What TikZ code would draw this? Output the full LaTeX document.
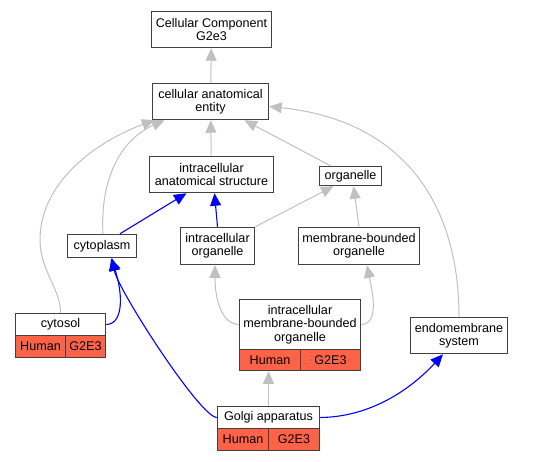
\documentclass[tikz,border=0pt]{standalone}
\usepackage{fontspec}
\setmainfont{Liberation Sans}
\usetikzlibrary{arrows.meta}
\definecolor{tomato}{HTML}{FF6347}
\definecolor{isagray}{HTML}{C0C0C0}
\begin{document}
\begin{tikzpicture}[x=1pt, y=-1pt,
	font=\fontsize{12.6}{13.3}\selectfont,
	term/.style={draw=black!75, line width=1.5pt, fill=white, align=center, inner sep=0pt},
	taxon/.style={term, fill=tomato},
	isa/.style={draw=isagray, line width=1pt, -{Triangle[length=12.5pt,width=11pt]}},
	partof/.style={draw=blue, line width=1.1pt, -{Triangle[length=12.5pt,width=11pt]}}]
	    \useasboundingbox (0,0) rectangle (536,461);
	    % terms
	    \node[term, minimum width=120pt, minimum height=36pt] (cc) at (211.5,29.5) {Cellular Component\\G2e3};
	    \node[term, minimum width=116pt, minimum height=36pt] (entity) at (210.5,101.5) {cellular anatomical\\entity};
	    \node[term, minimum width=124pt, minimum height=36pt] (ias) at (211.5,174.5) {intracellular\\anatomical structure};
	    \node[term, minimum width=62pt, minimum height=19pt] (organelle) at (350.5,176) {organelle};
	    \node[term, minimum width=69pt, minimum height=23pt] (cytoplasm) at (102,246) {cytoplasm};
	    \node[term, minimum width=74pt, minimum height=37pt] (io) at (217.5,246) {intracellular\\organelle};
	    \node[term, minimum width=121pt, minimum height=37pt] (mbo) at (359,246) {membrane-bounded\\organelle};
	    \node[term, minimum width=121pt, minimum height=50pt] (imbo) at (300,324.5) {intracellular\\membrane-bounded\\organelle};
	    \node[taxon, minimum width=61pt, minimum height=21pt] (imboHuman) at (270,360) {Human};
	    \node[taxon, minimum width=60pt, minimum height=21pt] (imboG2E3) at (330.5,360) {G2E3};
	    \node[term, minimum width=90pt, minimum height=22pt] (cytosol) at (60.5,324.5) {cytosol};
	    \node[taxon, minimum width=50pt, minimum height=22pt] (cytosolHuman) at (40.5,346.5) {Human};
	    \node[taxon, minimum width=40pt, minimum height=22pt] (cytosolG2E3) at (85.5,346.5) {G2E3};
	    \node[term, minimum width=97pt, minimum height=36pt] (endo) at (459,335.5) {endomembrane\\system};
	    \node[term, minimum width=102pt, minimum height=22pt] (golgi) at (268.5,417.5) {Golgi apparatus};
	    \node[taxon, minimum width=51pt, minimum height=22pt] (golgiHuman) at (243,439.5) {Human};
	    \node[taxon, minimum width=51pt, minimum height=22pt] (golgiG2E3) at (294,439.5) {G2E3};
	    % is_a
	    \draw[isa] (entity) -- (cc);
	    \draw[isa] (ias) -- (entity);
	    \draw[isa] ([xshift=-20pt]organelle.north) -- ([xshift=34pt]entity.south);
	    \draw[isa] (endo.north) .. controls (459,200) and (400,120) .. ([yshift=-5pt]entity.east);
	    \draw[isa] (cytosol.north) .. controls (61,290) and (40,270) .. (40,240) .. controls (40,180) and (100,140) .. ([xshift=-56pt]entity.south);
	    \draw[isa] ([xshift=1pt]cytoplasm.north) .. controls (100,180) and (120,140) .. ([xshift=-46pt]entity.south);
	    \draw[isa] (io.north east) -- ([xshift=-17pt]organelle.south);
	    \draw[isa] (mbo.north) -- ([xshift=3pt]organelle.south);
	    \draw[isa] (imbo.west) .. controls (222,324) and (215,300) .. ([xshift=-2.5pt]io.south);
	    \draw[isa] (imbo.east) .. controls (380,324) and (372,290) .. ([xshift=8pt]mbo.south);
	    \draw[isa] (golgi.north) -- (golgi.north |- imboHuman.south);
	    % part_of
	    \draw[partof] ([xshift=18pt]cytoplasm.north) -- ([xshift=-25pt]ias.south);
	    \draw[partof] (io.north) -- ([xshift=3pt]ias.south);
	    \draw[partof] (cytosol.east) .. controls (125,324) and (122,290) .. ([xshift=9pt]cytoplasm.south);
	    \draw[partof] (golgi.west) .. controls (200,417) and (118,290) .. ([xshift=10pt]cytoplasm.south);
	    \draw[partof] (golgi.east) .. controls (370,417) and (410,390) .. ([xshift=-16pt]endo.south);
\end{tikzpicture}
\end{document}
